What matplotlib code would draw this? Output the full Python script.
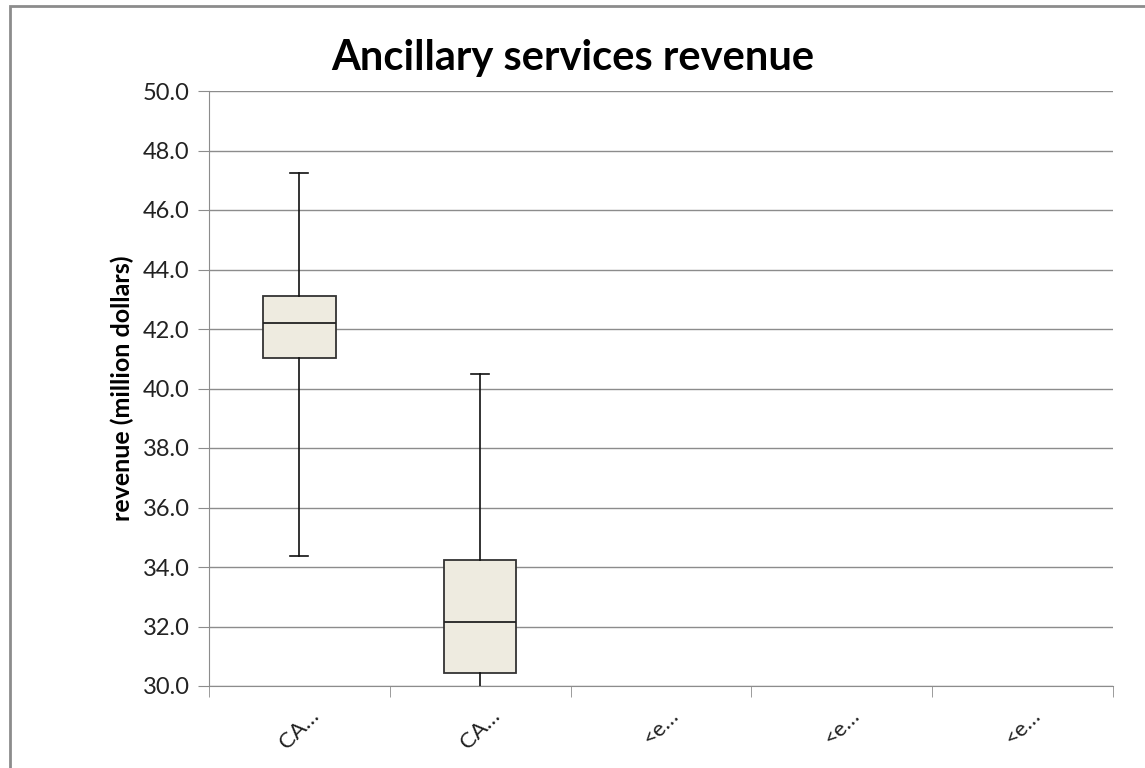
import matplotlib
matplotlib.use("Agg")
import matplotlib.pyplot as plt
from matplotlib.patches import Rectangle

# data
categories = ["CA…", "CA…", "<e…", "<e…", "<e…"]
whisker_low = [34.37, 28.0]
q1 = [41.04, 30.45]
median = [42.2, 32.16]
q3 = [43.11, 34.24]
whisker_high = [47.24, 40.49]

plt.rcParams['font.family'] = ['Lato', 'DejaVu Sans']

fig = plt.figure(figsize=(11.45, 7.68), dpi=100)
ax = fig.add_axes([209 / 1145, 1 - 686 / 768, 904 / 1145, 595 / 768])

stats = []
for i in range(len(q1)):
    stats.append({"whislo": whisker_low[i], "q1": q1[i], "med": median[i],
                  "q3": q3[i], "whishi": whisker_high[i], "fliers": []})

ax.bxp(stats, positions=[1, 2], widths=0.4, patch_artist=True, showfliers=False,
       boxprops=dict(facecolor="#eeebe0", edgecolor="#333333", linewidth=1.3),
       medianprops=dict(color="#222222", linewidth=1.3),
       whiskerprops=dict(color="#111111", linewidth=1.2),
       capprops=dict(color="#111111", linewidth=1.2),
       capwidths=0.1, zorder=3)

ax.set_xlim(0.5, len(categories) + 0.5)
ax.set_ylim(30, 50)
ax.set_yticks([30 + 2 * k for k in range(11)])
ax.set_yticklabels([f"{30 + 2 * k:.1f}" for k in range(11)], fontsize=17, color="#222222")
ax.yaxis.grid(True, color="#8c8c8c", linewidth=1)
ax.set_axisbelow(True)

ax.set_xticks(range(1, len(categories) + 1))
ax.set_xticklabels(categories, rotation=45, fontsize=16, color="#222222")
ax.set_xticks([k + 0.5 for k in range(len(categories) + 1)], minor=True)
ax.tick_params(axis="x", which="major", length=0, pad=14)
ax.tick_params(axis="x", which="minor", length=8, color="#8c8c8c", direction="out")
ax.tick_params(axis="y", length=8, color="#8c8c8c", direction="out", pad=6)

for side in ["top", "right"]:
    ax.spines[side].set_visible(False)
for side in ["left", "bottom"]:
    ax.spines[side].set_color("#8c8c8c")

ax.set_ylabel("revenue (million dollars)", fontsize=18, fontweight="bold", labelpad=6)
fig.text(0.5, 1 - 58 / 768, "Ancillary services revenue", ha="center", va="center",
         fontsize=30, fontweight="bold")

fig.patches.append(Rectangle((10 / 1145, -0.01), 1.1, 1 - 6 / 768 + 0.01,
                             transform=fig.transFigure, fill=False,
                             edgecolor="#8c8c8c", linewidth=2))

fig.savefig("out.png", dpi=100)
